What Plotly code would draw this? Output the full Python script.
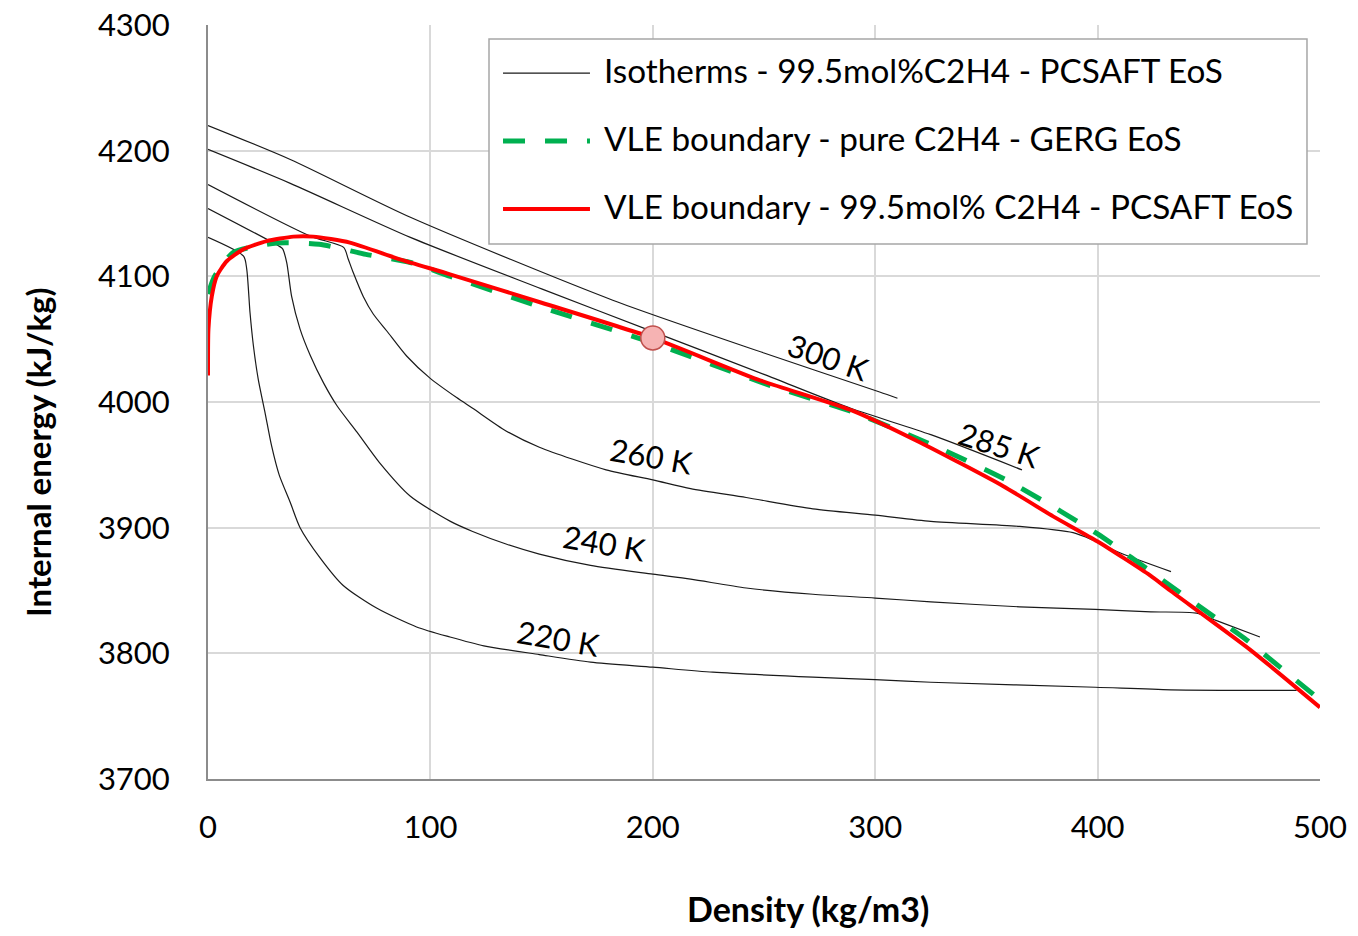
import plotly.graph_objects as go

FONT = "Lato"

# ---- Data ----
iso_300_x = [0, 37, 91, 182, 250, 302, 310]
iso_300_y = [4220, 4193, 4147, 4081, 4039, 4008, 4003]

iso_285_x = [0, 37, 91, 150, 200, 250, 289, 325, 366]
iso_285_y = [4201, 4174, 4131, 4090, 4056, 4022, 3995, 3974, 3946]

iso_260_x = [0, 46, 61, 63, 65.3, 69.8, 74.3, 80.4, 89.3, 99.8, 111.8, 119, 134, 149, 179, 200, 217, 242, 272, 300, 325, 365, 389, 398, 410, 433]
iso_260_y = [4173, 4132, 4123, 4114, 4103, 4084, 4070, 4056.5, 4036.6, 4019, 4003.5, 3995, 3977, 3964, 3946, 3938, 3931, 3924, 3915, 3910, 3905, 3901, 3896, 3890, 3880, 3865]

iso_240_x = [0, 32, 33.5, 35.4, 37.6, 41.4, 46, 52, 58, 67, 77, 91, 109, 119, 134, 149, 172, 200, 217, 242, 272, 300, 325, 365, 399, 424, 444.5, 453.5, 473]
iso_240_y = [4154, 4124, 4122, 4111, 4084, 4058, 4037, 4015, 3997, 3976, 3952, 3925, 3905, 3897, 3887, 3879, 3870, 3863, 3859, 3852, 3847, 3844, 3841, 3837, 3835, 3833, 3832, 3826, 3813]

iso_220_x = [0, 16, 17.4, 18.9, 20.4, 22.6, 25.6, 28.6, 32, 37, 41.4, 50.4, 60.8, 75.8, 93.8, 108.8, 124, 149, 172, 200, 227, 272, 300, 325, 399, 433, 489.5]
iso_220_y = [4131, 4116, 4106, 4071, 4045, 4018, 3992, 3965, 3942, 3920, 3900, 3876, 3854, 3836, 3821, 3813, 3806, 3799, 3793, 3789, 3785, 3781, 3779, 3777, 3773, 3771, 3770.5]

gerg_x = [0, 3, 11.4, 31, 50, 71, 91, 109, 149, 200, 253, 290, 328, 360, 400, 431, 450, 466, 482, 500]
gerg_y = [4086, 4100, 4119, 4126.6, 4125.5, 4117.5, 4111, 4100, 4076, 4047, 4013, 3992, 3964, 3937, 3895, 3856, 3832, 3812, 3789, 3763]

pcsaft_x = [0, 0.2, 1.7, 3.9, 8.4, 15.9, 26.4, 38.4, 47.3, 63.8, 86.3, 108.8, 150, 200, 247, 290, 320, 357.6, 380, 400, 423.6, 432.6, 468.5, 500]
pcsaft_y = [4021, 4058, 4084, 4100, 4112, 4121.5, 4128, 4131.6, 4131.6, 4126.8, 4113.5, 4101.6, 4079, 4051, 4018, 3993, 3968, 3933, 3909, 3889, 3862, 3850, 3803, 3757]

point_x = [200]
point_y = [4051]

iso_labels = ["300 K", "285 K", "260 K", "240 K", "220 K"]
iso_label_x = [279, 356, 199.5, 178.5, 157.5]
iso_label_y = [4036, 3966, 3957, 3888, 3812]
iso_label_angle = [19, 18, 10, 10, 10]

legend_names = [
    "Isotherms - 99.5mol%C2H4 - PCSAFT EoS",
    "VLE boundary - pure C2H4 - GERG EoS",
    "VLE boundary - 99.5mol% C2H4 - PCSAFT EoS",
]

x_title = "Density (kg/m3)"
y_title = "Internal energy (kJ/kg)"
x_ticks = [0, 100, 200, 300, 400, 500]
y_ticks = [3700, 3800, 3900, 4000, 4100, 4200, 4300]

fig = go.Figure()

iso_sets = [(iso_300_x, iso_300_y), (iso_285_x, iso_285_y), (iso_260_x, iso_260_y),
            (iso_240_x, iso_240_y), (iso_220_x, iso_220_y)]
for i, (xs, ys) in enumerate(iso_sets):
    fig.add_trace(go.Scatter(x=xs, y=ys, mode="lines",
                             line=dict(color="#1a1a1a", width=1.2, shape="spline", smoothing=0.7),
                             name=legend_names[0], showlegend=False, hoverinfo="skip"))

fig.add_trace(go.Scatter(x=gerg_x, y=gerg_y, mode="lines",
                         line=dict(color="#00b050", width=5, dash="22px,20px", shape="spline", smoothing=0.6),
                         name=legend_names[1], showlegend=False))
fig.add_trace(go.Scatter(x=pcsaft_x, y=pcsaft_y, mode="lines",
                         line=dict(color="#ff0000", width=4, shape="spline", smoothing=0.6),
                         name=legend_names[2], showlegend=False))
fig.add_trace(go.Scatter(x=point_x, y=point_y, mode="markers",
                         marker=dict(size=24, color="#f6b3b3", line=dict(color="#c0504d", width=1.5)),
                         showlegend=False))

for t, x, y, a in zip(iso_labels, iso_label_x, iso_label_y, iso_label_angle):
    fig.add_annotation(x=x, y=y, text=t, textangle=a, showarrow=False,
                       font=dict(family=FONT, size=31, color="#000000"),
                       xanchor="center", yanchor="middle")

# ---- Legend drawn in paper coordinates ----
fig.add_shape(type="rect", xref="paper", yref="paper", x0=0.2527, x1=0.9883, y0=0.7095, y1=0.9814,
              line=dict(color="#a6a6a6", width=1.5), fillcolor="white", layer="above")
leg_line_y = [0.9363, 0.8462, 0.7560]
leg_styles = [dict(color="#1a1a1a", width=1.2), dict(color="#00b050", width=5, dash="22px,20px"),
              dict(color="#ff0000", width=4)]
for name, yy, st in zip(legend_names, leg_line_y, leg_styles):
    fig.add_shape(type="line", xref="paper", yref="paper", x0=0.2653, x1=0.3435, y0=yy, y1=yy,
                  line=st, layer="above")
    fig.add_annotation(xref="paper", yref="paper", x=0.3543, y=yy + 0.004, text=name, showarrow=False,
                       xanchor="left", yanchor="middle", font=dict(family=FONT, size=33.3, color="#000000"))

# ---- Axis titles (placed like the reference, off-centre) ----
fig.add_annotation(xref="paper", yref="paper", x=0.5396, y=-0.1711, text="<b>%s</b>" % x_title,
                   showarrow=False, xanchor="center", yanchor="middle",
                   font=dict(family=FONT, size=34, color="#000000"))
fig.add_annotation(xref="paper", yref="paper", x=-0.1529, y=0.4337, text="<b>%s</b>" % y_title,
                   textangle=-90, showarrow=False, xanchor="center", yanchor="middle",
                   font=dict(family=FONT, size=33, color="#000000"))

fig.update_layout(
    width=1358, height=936,
    margin=dict(l=208, r=38, t=25, b=157, autoexpand=False),
    paper_bgcolor="white", plot_bgcolor="white",
    font=dict(family=FONT, size=31, color="#000000"),
)
fig.update_xaxes(range=[0, 500], tickvals=x_ticks, showgrid=True, gridcolor="#d9d9d9", gridwidth=1.5,
                 showline=True, linecolor="#8c8c8c", linewidth=2, zeroline=False, ticks="",
                 tickfont=dict(family=FONT, size=31), ticklabelstandoff=20, automargin=False)
fig.update_yaxes(range=[3700, 4300], tickvals=y_ticks, showgrid=True, gridcolor="#d9d9d9", gridwidth=1.5,
                 showline=True, linecolor="#8c8c8c", linewidth=2, zeroline=False, ticks="",
                 tickfont=dict(family=FONT, size=31), ticklabelstandoff=30, automargin=False)

fig.write_html("out.html")
